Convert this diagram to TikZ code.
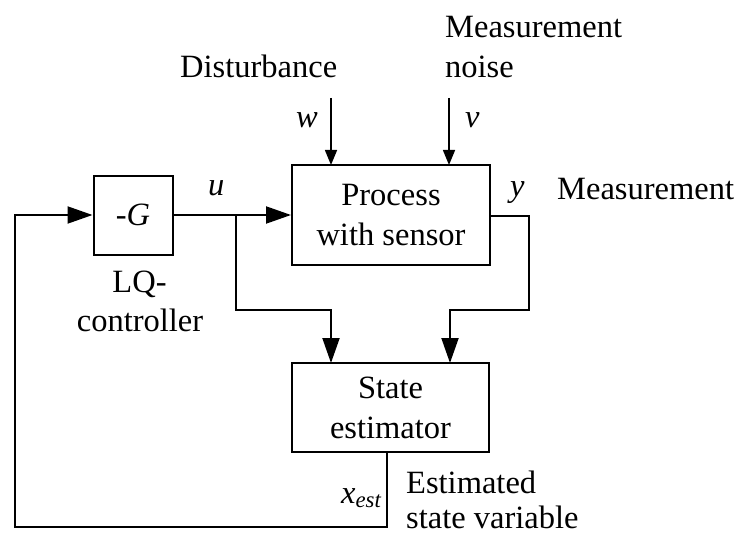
\documentclass[tikz,border=0pt]{standalone}
\usepackage{fontspec}
\setmainfont{Liberation Serif}
\usetikzlibrary{arrows.meta,calc}
\begin{document}
\begin{tikzpicture}[x=1pt,y=-1pt,
  every node/.style={font=\fontsize{32.5}{40}\selectfont, inner sep=0pt},
  blk/.style={draw, line width=2pt, align=center},
  wire/.style={line width=2pt},
  big/.style={-{Triangle[length=25pt,width=17pt]}},
  small/.style={line width=1.5pt,-{Triangle[length=15pt,width=12pt]}},
  lbl/.style={anchor=base west}]
\useasboundingbox (0,0) rectangle (740,535);
% blocks
\node[blk, minimum width=79pt, minimum height=79pt] (G) at (133,215) {-\textit{G}};
\node[blk, minimum width=198pt, minimum height=100pt] (P) at (391,215) {Process\\with sensor};
\node[blk, minimum width=197pt, minimum height=89pt] (S) at (390.5,407.5) {State\\estimator};
% coordinates
\coordinate (J) at (236,215);
\coordinate (Ja) at (236,310);
\coordinate (Sa) at (331,363);
\coordinate (Y1) at (529,216);
\coordinate (Y2) at (529,310);
\coordinate (Sb) at (450,363);
\coordinate (O1) at (387,452);
\coordinate (O2) at (387,527);
\coordinate (F1) at (15,527);
\coordinate (F2) at (15,215);
\coordinate (Wt) at (331,98);
\coordinate (Wb) at (331,165);
\coordinate (Vt) at (449,98);
\coordinate (Vb) at (449,165);
% connectors
\draw[wire,big] (G.east) -- (P.west);
\draw[wire,big] (J) -- (Ja) -| (Sa);
\draw[wire,big] (P.east |- Y1) -- (Y1) -- (Y2) -| (Sb);
\draw[wire,big] (O1) -- (O2) -- (F1) -- (F2) -- (G.west);
\draw[small] (Wt) -- (Wb);
\draw[small] (Vt) -- (Vb);
% labels
\node[lbl] (lu) at (208,195) {\textit{u}};
\node[lbl] (ly) at (510,196) {\textit{y}};
\node[lbl] (lw) at (296,128) {\textit{w}};
\node[lbl] (lv) at (465,128) {\textit{v}};
\node[lbl] (lmeas) at (557,200) {Measurement};
\node[lbl] (ldist) at (180,78) {Disturbance};
\node[lbl] (lnoise1) at (445,38) {Measurement};
\node[lbl] (lnoise2) at (445,78) {noise};
\node[anchor=base] (llq1) at (139.5,292) {LQ-};
\node[anchor=base] (llq2) at (140,331) {controller};
\node[anchor=base east] (lx) at (382,503) {\textit{x}\textsubscript{\textit{est}}};
\node[lbl] (le1) at (406,493) {Estimated};
\node[lbl] (le2) at (406,528) {state variable};
\end{tikzpicture}
\end{document}
